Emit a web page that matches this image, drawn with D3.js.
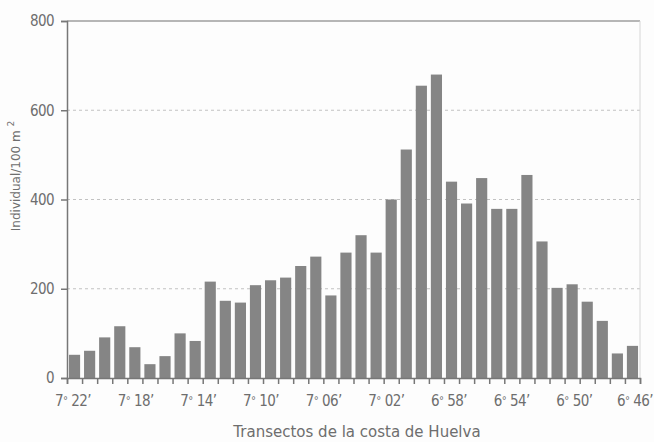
<!DOCTYPE html>
<html>
<head>
<meta charset="utf-8">
<script src="https://cdn.jsdelivr.net/npm/d3@7"></script>
<style>
  html, body { margin: 0; padding: 0; background: #fdfdfd; }
  svg { display: block; }
  .tick-label { font-family: "DejaVu Sans Condensed", "Liberation Sans Narrow", sans-serif; font-size: 15px; fill: #6e6e6e; letter-spacing: -0.6px; }
  .axis-title { font-family: "DejaVu Sans", sans-serif; fill: #6e6e6e; }
</style>
</head>
<body>
<svg id="chart" width="654" height="442"></svg>
<script>
(function () {
  'use strict';

  // Densidad por transecto, de oeste a este (Individual/100 m2)
  const DENSITY = [
    52, 61, 91, 116, 69, 31, 49, 100, 83, 216,
    173, 169, 208, 219, 225, 251, 272, 185, 281, 320,
    281, 400, 512, 655, 680, 440, 391, 448, 379, 379,
    455, 306, 202, 210, 171, 128, 55, 72
  ];

  // Longitude labels: degrees and minutes
  const LON_DEG = ['7', '7', '7', '7', '7', '7', '6', '6', '6', '6'];
  const LON_MIN = ['22', '18', '14', '10', '06', '02', '58', '54', '50', '46'];

  const Y_TICKS = [0, 200, 400, 600, 800];
  const GRID_TICKS = [200, 400, 600];

  const left = 67, right = 640, top = 21, bottom = 378;

  const svg = d3.select('#chart');

  const x = d3.scaleBand()
    .domain(d3.range(DENSITY.length))
    .range([left, right])
    .paddingInner(0.26)
    .paddingOuter(0.13);

  // Boundaries between transects, for the tick marks
  const xEdge = d3.scaleLinear().domain([0, DENSITY.length]).range([left, right]);
  const xLabel = d3.scalePoint().domain(d3.range(LON_MIN.length)).range([73, 637]);

  const y = d3.scaleLinear().domain([0, 800]).range([bottom, top]);

  // Dotted gridlines
  svg.append('g')
    .selectAll('line')
    .data(GRID_TICKS)
    .join('line')
    .attr('x1', left).attr('x2', right)
    .attr('y1', d => y(d)).attr('y2', d => y(d))
    .attr('stroke', '#c2c2c2')
    .attr('stroke-width', 1)
    .attr('stroke-dasharray', '3,3');

  // Frame: dark top line, faint right line
  svg.append('line')
    .attr('x1', left).attr('x2', right)
    .attr('y1', y(800)).attr('y2', y(800))
    .attr('stroke', '#707070').attr('stroke-width', 1.2);
  svg.append('line')
    .attr('x1', right).attr('x2', right)
    .attr('y1', y(800)).attr('y2', y(0))
    .attr('stroke', '#d6d6d6').attr('stroke-width', 1);

  // Bars
  svg.append('g')
    .selectAll('rect')
    .data(DENSITY)
    .join('rect')
    .attr('x', (d, i) => x(i))
    .attr('y', d => y(d))
    .attr('width', x.bandwidth())
    .attr('height', d => y(0) - y(d))
    .attr('fill', '#858585');

  // Y axis
  const yAxis = svg.append('g')
    .attr('transform', `translate(${left},0)`)
    .call(d3.axisLeft(y).tickValues(Y_TICKS).tickSize(6).tickPadding(7).tickFormat(d3.format('d')));
  yAxis.select('.domain').attr('stroke', '#777').attr('stroke-width', 1.5);
  yAxis.selectAll('.tick line').attr('stroke', '#777').attr('stroke-width', 1.5);
  yAxis.selectAll('.tick text').attr('class', 'tick-label').attr('font-family', null).attr('font-size', null).attr('fill', null);

  // X axis: tick marks at every transect boundary
  const xAxis = svg.append('g')
    .attr('transform', `translate(0,${bottom})`)
    .call(d3.axisBottom(xEdge).tickValues(d3.range(DENSITY.length + 1)).tickSize(6).tickFormat(''));
  xAxis.select('.domain').attr('stroke', '#777').attr('stroke-width', 1.5);
  xAxis.selectAll('.tick line').attr('stroke', '#777').attr('stroke-width', 1.5);

  // Longitude labels
  const lastIdx = LON_MIN.length - 1;
  const lab = svg.append('g')
    .selectAll('text')
    .data(d3.range(LON_MIN.length))
    .join('text')
    .attr('class', 'tick-label')
    .attr('x', i => i === lastIdx ? 653 : xLabel(i))
    .attr('y', 406)
    .attr('text-anchor', i => i === lastIdx ? 'end' : 'middle');
  lab.append('tspan').text(i => LON_DEG[i]);
  lab.append('tspan').attr('dy', -2).style('font-size', '11px').text('\u00b0');
  lab.append('tspan').attr('dx', 4).attr('dy', 2).text(i => LON_MIN[i] + '\u2019');

  // Axis titles
  svg.append('text')
    .attr('class', 'axis-title')
    .attr('x', 357).attr('y', 437)
    .attr('text-anchor', 'middle')
    .style('font-size', '15px')
    .text('Transectos de la costa de Huelva');

  const yt = svg.append('text')
    .attr('class', 'axis-title')
    .style('font-size', '12px')
    .attr('transform', `translate(20,176) rotate(-90)`)
    .attr('text-anchor', 'middle');
  yt.append('tspan').text('Individual/100 m ');
  yt.append('tspan').attr('dy', -6).style('font-size', '9px').text('2');
})();
</script>
</body>
</html>
